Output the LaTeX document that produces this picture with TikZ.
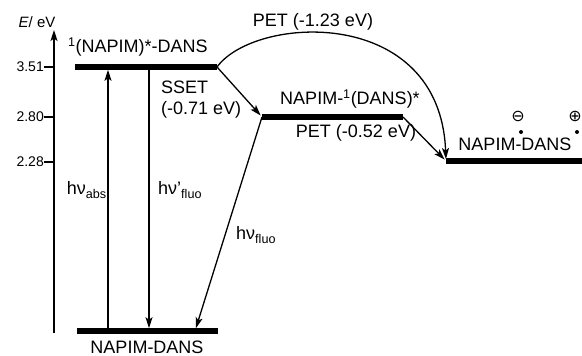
\documentclass[tikz,border=0pt]{standalone}
\usepackage{fontspec}
\setmainfont{Liberation Sans}
\newfontfamily\symfont{DejaVu Sans}
\usetikzlibrary{arrows.meta}
\begin{document}
\begin{tikzpicture}[x=1pt,y=-1pt,
  level/.style={line width=5.5pt},
  tipstyle/.style={-{Stealth[length=11pt,width=7pt,inset=2.5pt]}},
  conn/.style={line width=1.3pt,tipstyle},
  lbl/.style={inner sep=0pt,font=\fontsize{18}{21}\selectfont},
  num/.style={inner sep=0pt,font=\fontsize{14}{16}\selectfont},
  tick/.style={line width=1.1pt}]
\useasboundingbox (0,0) rectangle (582,356);
% axis
\coordinate (axB) at (54,333);
\coordinate (axT) at (54,30);
\draw[line width=1.3pt,tipstyle] (axB) -- (axT);
\node[num,font=\fontsize{15}{16}\selectfont] (elab) at (37,22) {\textit{E}/ eV};
\foreach \y/\t/\n in {67/3.51/a,117/2.80/b,162/2.28/c}{
  \coordinate (t\n) at (54,\y);
  \draw[tick] (t\n) -- ++(-10,0);
  \node[num,anchor=east] (n\n) at (44,\y) {\t};
}
% levels
\coordinate (s1L) at (75,67);   \coordinate (s1R) at (217,67);
\coordinate (s2L) at (262,117); \coordinate (s2R) at (403,117);
\coordinate (s3L) at (446,161); \coordinate (s3R) at (582,161);
\coordinate (s0L) at (77,331);  \coordinate (s0R) at (218,331);
\draw[level] (s1L) -- (s1R);
\draw[level] (s2L) -- (s2R);
\draw[level] (s3L) -- (s3R);
\draw[level] (s0L) -- (s0R);
% level labels
\node[lbl,anchor=west] (l1) at (68,47) {\textsuperscript{1}(NAPIM)*-DANS};
\node[lbl] (l2) at (350,99) {NAPIM-\textsuperscript{1}(DANS)*};
\node[lbl] (l3) at (515,144) {NAPIM-DANS};
\node[lbl] (l0) at (147,347) {NAPIM-DANS};
\node[inner sep=0pt,font=\symfont\fontsize{16}{16}\selectfont] (minus) at (518,116) {⊖};
\node[inner sep=0pt,font=\symfont\fontsize{16}{16}\selectfont] (plus) at (575,116) {⊕};
\fill (521,132) circle (2);
\fill (577,132) circle (2);
% transitions
\coordinate (abs0) at (108,331); \coordinate (abs1) at (108,67);
\coordinate (fl1) at (149,67);   \coordinate (fl0) at (149,331);
\coordinate (fb0) at (195,331);
\draw[conn,shorten >=2.8pt] (abs0) -- (abs1);
\draw[conn,shorten >=2.8pt] (fl1) -- (fl0);
\draw[conn,shorten >=2.8pt] (s2L) -- (fb0);
\draw[conn,shorten >=2pt] (s1R) -- (s2L);
\draw[conn,shorten >=2pt] (s2R) -- (s3L);
\draw[conn,shorten >=2pt] (s1R) .. controls (255,15) and (440,5) .. (s3L);
% transition labels
\node[lbl,anchor=east] (habs) at (107,190) {hν\textsubscript{abs}};
\node[lbl,anchor=west] (hfl1) at (158,190) {hν'\textsubscript{fluo}};
\node[lbl,anchor=west] (hfl) at (236,235) {hν\textsubscript{fluo}};
\node[lbl,anchor=west,align=left] (sset) at (161,100) {SSET\\(-0.71 eV)};
\node[lbl] (pet1) at (313,22) {PET (-1.23 eV)};
\node[lbl] (pet2) at (356,133) {PET (-0.52 eV)};
\end{tikzpicture}
\end{document}
